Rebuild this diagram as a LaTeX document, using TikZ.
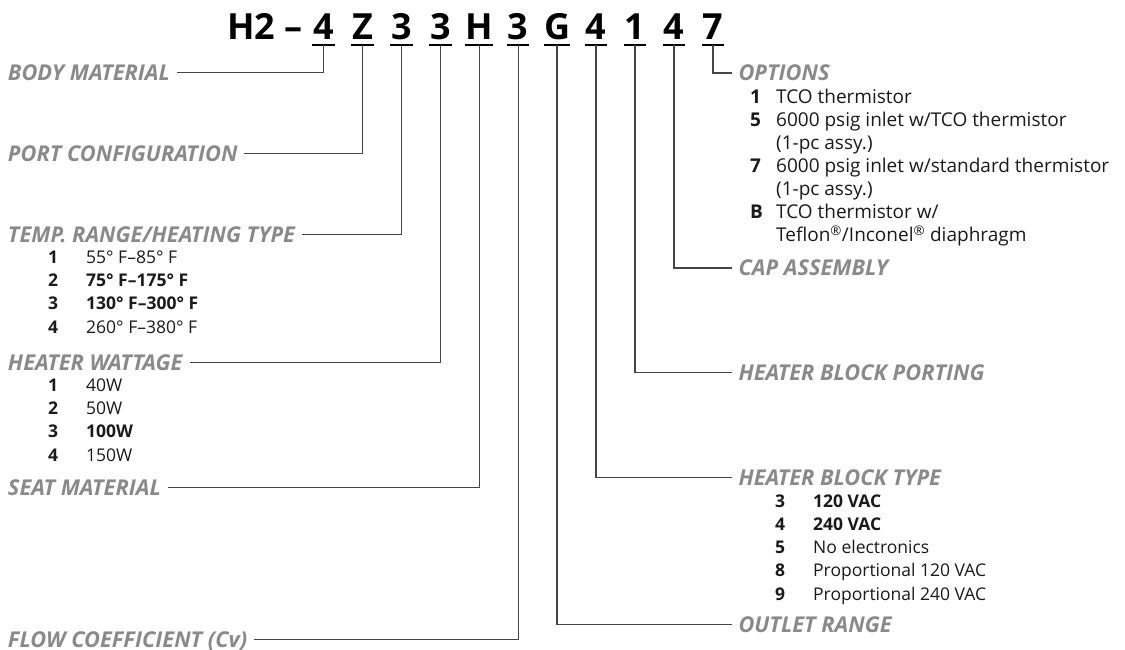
\documentclass[tikz,border=0pt]{standalone}
\usepackage{fontspec}
\setmainfont{Open Sans}
\usepackage{array}
\usetikzlibrary{positioning}
\definecolor{leadLine}{HTML}{454545}
\definecolor{headGray}{HTML}{8A8A8A}
\definecolor{itemInk}{HTML}{1A1A1A}

\begin{document}
\begin{tikzpicture}[
        x=1pt, y=-1pt,
        code/.style={inner sep=0pt, text depth=5pt, minimum width=22pt, anchor=base, font=\fontsize{36}{36}\selectfont\bfseries},
        head/.style={inner xsep=0pt, inner ysep=0pt, outer xsep=7pt, text height=15.4pt, text depth=0pt, text=headGray, font=\fontsize{21.8}{21.8}\selectfont\bfseries\itshape},
        items/.style={inner sep=0pt, anchor=base west, text=itemInk, font=\fontsize{17.5}{23.2}\selectfont},
        wideitems/.style={items, font=\fontsize{19}{23}\selectfont},
        uline/.style={draw=black, line width=1.6pt},
        lead/.style={draw=leadLine, line width=1.5pt}
      ]
        \useasboundingbox (0,0) rectangle (1125,650);
        \node[code, anchor=base east] (prefix) at (303,40) {H2 –};
        \foreach \ch/\nm [count=\i from 0] in {4/body, Z/port, 3/temp, 3/watt, H/seat, 3/flow, G/outlet, 4/type, 1/porting, 4/cap, 7/opts} {
          \node[code] (c\nm) at ({323.5+38.95*\i},40) {\ch};
          \draw[uline] (c\nm.south west) -- (c\nm.south east);
        }
        \node[head, anchor=west] (body) at (1,72.7) {BODY MATERIAL};
        \node[head, anchor=west] (port) at (1,153.3) {PORT CONFIGURATION};
        \node[head, anchor=west] (temp) at (1,234.3) {TEMP. RANGE/HEATING TYPE};
        \node[head, anchor=west] (watt) at (1,362.7) {HEATER WATTAGE};
        \node[head, anchor=west] (seat) at (1,487.7) {SEAT MATERIAL};
        \node[head, anchor=west] (flow) at (1,639.3) {FLOW COEFFICIENT (Cv)};
        \node[head, anchor=west] (opts) at (731.5,73) {OPTIONS};
        \node[head, anchor=west] (cap) at (731.5,268) {CAP ASSEMBLY};
        \node[head, anchor=west] (porting) at (731.5,372.3) {HEATER BLOCK PORTING};
        \node[head, anchor=west] (type) at (731.5,477.7) {HEATER BLOCK TYPE};
        \node[head, anchor=west] (outlet) at (731.5,624.5) {OUTLET RANGE};
        \node[items] (templist) at (48,263.5) {\begin{tabular}[t]{@{}p{38pt}@{}l@{}}
          \textbf{1} & 55° F–85° F\\
          \textbf{2} & \textbf{75° F–175° F}\\
          \textbf{3} & \textbf{130° F–300° F}\\
          \textbf{4} & 260° F–380° F
        \end{tabular}};
        \node[items] (wattlist) at (48,391.5) {\begin{tabular}[t]{@{}p{38pt}@{}l@{}}
          \textbf{1} & 40W\\
          \textbf{2} & 50W\\
          \textbf{3} & \textbf{100W}\\
          \textbf{4} & 150W
        \end{tabular}};
        \node[wideitems] (optslist) at (750,104) {\begin{tabular}[t]{@{}p{26pt}@{}l@{}}
          \textbf{1} & TCO thermistor\\
          \textbf{5} & 6000 psig inlet w/TCO thermistor\\
                     & (1-pc assy.)\\
          \textbf{7} & 6000 psig inlet w/standard thermistor\\
                     & (1-pc assy.)\\
          \textbf{B} & TCO thermistor w/\\
                     & Teflon\textsuperscript{®}/Inconel\textsuperscript{®} diaphragm
        \end{tabular}};
        \node[items] (typelist) at (775,507.2) {\begin{tabular}[t]{@{}p{38pt}@{}l@{}}
          \textbf{3} & \textbf{120 VAC}\\
          \textbf{4} & \textbf{240 VAC}\\
          \textbf{5} & No electronics\\
          \textbf{8} & Proportional 120 VAC\\
          \textbf{9} & Proportional 240 VAC
        \end{tabular}};
        \draw[lead] (cbody.south) |- (body.east);
        \draw[lead] (cport.south) |- (port.east);
        \draw[lead] (ctemp.south) |- (temp.east);
        \draw[lead] (cwatt.south) |- (watt.east);
        \draw[lead] (cseat.south) |- (seat.east);
        \draw[lead] (cflow.south) |- (flow.east);
        \draw[lead] (coutlet.south) |- (outlet.west);
        \draw[lead] (ctype.south) |- (type.west);
        \draw[lead] (cporting.south) |- (porting.west);
        \draw[lead] (ccap.south) |- (cap.west);
        \draw[lead] (copts.south) |- (opts.west);
      \end{tikzpicture}
\end{document}
